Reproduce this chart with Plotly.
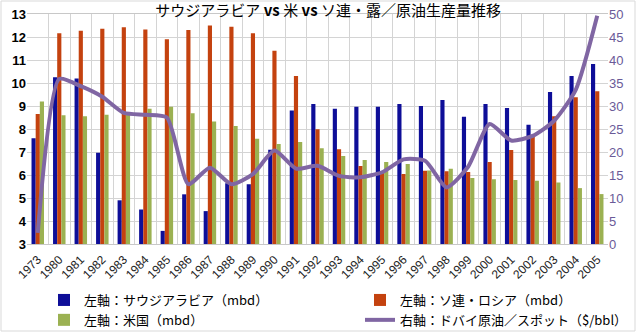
import plotly.graph_objects as go

years = ["1973"] + [str(y) for y in range(1980, 2006)]

saudi = [7.6, 10.25, 10.2, 6.97, 4.9, 4.5, 3.57, 5.16, 4.43, 5.64, 5.6, 7.1, 8.8,
         9.09, 8.88, 8.97, 8.97, 9.09, 9.0, 9.26, 8.53, 9.09, 8.91, 8.19, 9.61, 10.3, 10.83]
ussr = [8.65, 12.16, 12.27, 12.36, 12.42, 12.33, 11.9, 12.3, 12.5, 12.45, 12.16, 11.4, 10.3,
        7.99, 7.12, 6.39, 6.1, 6.04, 6.19, 6.16, 6.13, 6.57, 7.09, 7.75, 8.55, 9.38, 9.64]
usa = [9.2, 8.6, 8.55, 8.62, 8.68, 8.88, 8.97, 8.68, 8.33, 8.13, 7.58, 7.35, 7.43,
       7.16, 6.83, 6.65, 6.57, 6.48, 6.2, 6.27, 5.87, 5.82, 5.78, 5.75, 5.67, 5.43, 5.17]
dubai = [2.4, 35.9, 34.3, 32.0, 28.5, 28.1, 27.5, 13.0, 16.6, 13.0, 15.2, 20.3, 16.4,
         17.0, 14.8, 14.5, 15.6, 18.4, 18.1, 12.3, 16.8, 26.1, 22.5, 23.5, 26.8, 33.5, 49.6]

title_text = "サウジアラビア <b>vs</b> 米 <b>vs</b> ソ連・露／原油生産量推移"
names = ["左軸：サウジアラビア（mbd）", "左軸：ソ連・ロシア（mbd）", "左軸：米国（mbd）", "右軸：ドバイ原油／スポット（$/bbl）"]

fig = go.Figure()
fig.add_bar(x=years, y=saudi, name=names[0], legend="legend",
            marker=dict(color="#0e0e98", line=dict(width=0)))
fig.add_bar(x=years, y=ussr, name=names[1], legend="legend2",
            marker=dict(color="#c4420f", line=dict(width=0)))
fig.add_bar(x=years, y=usa, name=names[2], legend="legend",
            marker=dict(color="#9bb152", line=dict(width=0)))
fig.add_scatter(x=years, y=dubai, name=names[3], yaxis="y2", mode="lines", legend="legend2",
                line=dict(color="#8066a3", width=4, shape="spline", smoothing=0.6))

legend_font = dict(size=13, family="Noto Sans CJK JP", color="black")

fig.update_layout(
    width=636, height=334,
    margin=dict(l=27, r=28, t=14, b=90, autoexpand=False),
    paper_bgcolor="white", plot_bgcolor="white",
    barmode="group", bargap=0.42, bargroupgap=0,
    font=dict(family="Noto Sans CJK JP, Noto Sans", color="black"),
    title=dict(text=title_text, x=0.516, xanchor="center", y=0.985, yanchor="top",
               yref="container", automargin=False,
               font=dict(size=15, family="Noto Sans CJK JP", color="black")),
    xaxis=dict(type="category", tickangle=-45, tickson="boundaries", ticks="",
               showgrid=True, gridcolor="#d4d4d4", gridwidth=1, automargin=False,
               showline=True, linecolor="#c8c8c8", mirror=True, ticklabelstandoff=3,
               tickfont=dict(size=12, family="Liberation Sans", color="#222")),
    yaxis=dict(range=[3, 13], dtick=1, showgrid=True, gridcolor="#d4d4d4",
               showline=False, zeroline=False, ticks="", automargin=False,
               tickfont=dict(size=13, family="Liberation Sans", color="black", weight="bold")),
    yaxis2=dict(range=[0, 50], dtick=5, overlaying="y", side="right", showgrid=False,
                zeroline=False, ticks="", automargin=False,
                tickfont=dict(size=13, family="Liberation Sans", color="#6a5a98")),
    legend=dict(orientation="v", x=(44 - 27) / 581, xanchor="left",
                y=(244 - 285) / 230, yanchor="top", traceorder="normal",
                font=legend_font, itemwidth=30, bgcolor="rgba(0,0,0,0)"),
    legend2=dict(orientation="v", x=(360 - 27) / 581, xanchor="left",
                 y=(244 - 285) / 230, yanchor="top", traceorder="normal",
                 font=legend_font, itemwidth=30, bgcolor="rgba(0,0,0,0)"),
    showlegend=True,
)

fig.add_shape(type="rect", xref="paper", yref="paper",
              x0=(1 - 27) / 581, x1=(635 - 27) / 581,
              y0=(244 - 331) / 230, y1=(244 - 1) / 230,
              line=dict(color="#d9d9d9", width=1), fillcolor="rgba(0,0,0,0)", layer="below")

fig.write_html("out.html")
